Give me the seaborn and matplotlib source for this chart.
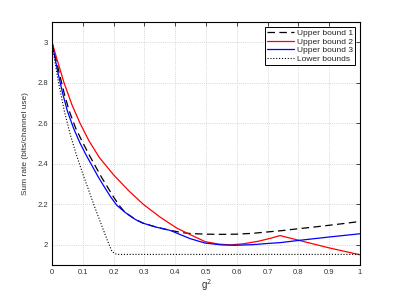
import numpy as np
import pandas as pd
import matplotlib
matplotlib.use("Agg")
import matplotlib.pyplot as plt
import seaborn as sns

# Werte
ub1_x = [0, 0.012, 0.024, 0.04, 0.056, 0.077, 0.098, 0.12, 0.14, 0.16, 0.18, 0.2, 0.22,
         0.237, 0.27, 0.296, 0.34, 0.383, 0.42, 0.45, 0.5, 0.55, 0.6, 0.65, 0.7, 0.75,
         0.8, 0.85, 0.9, 0.95, 1.0]
ub1_y = [3.0, 2.92, 2.845, 2.745, 2.66, 2.575, 2.51, 2.445, 2.39, 2.335, 2.285, 2.235,
         2.19, 2.16, 2.125, 2.106, 2.086, 2.071, 2.060, 2.055, 2.052, 2.051, 2.052,
         2.056, 2.063, 2.070, 2.079, 2.087, 2.096, 2.105, 2.115]

ub2_x = [0, 0.017, 0.039, 0.065, 0.091, 0.12, 0.154, 0.2, 0.25, 0.296, 0.35, 0.405,
         0.448, 0.497, 0.54, 0.578, 0.62, 0.67, 0.71, 0.74, 0.8, 0.9, 1.0]
ub2_y = [3.0, 2.912, 2.80, 2.69, 2.60, 2.513, 2.43, 2.345, 2.265, 2.20, 2.137, 2.082,
         2.05, 2.015, 2.003, 1.999, 2.004, 2.017, 2.032, 2.045, 2.022, 1.984, 1.95]

ub3_x = [0, 0.01, 0.02, 0.035, 0.05, 0.07, 0.09, 0.11, 0.13, 0.15, 0.17, 0.19, 0.21,
         0.237, 0.27, 0.296, 0.34, 0.383, 0.416, 0.448, 0.497, 0.55, 0.594, 0.65, 0.7,
         0.74, 0.8, 0.9, 1.0]
ub3_y = [3.0, 2.92, 2.845, 2.745, 2.66, 2.575, 2.505, 2.445, 2.39, 2.335, 2.285, 2.237,
         2.195, 2.16, 2.125, 2.106, 2.086, 2.071, 2.05, 2.03, 2.008, 1.999, 1.997, 2.0,
         2.006, 2.01, 2.021, 2.038, 2.054]

lb_x = [0, 0.01, 0.02, 0.04, 0.06, 0.08, 0.1, 0.12, 0.14, 0.16, 0.18, 0.195, 0.21, 1.0]
lb_y = [3.0, 2.90, 2.81, 2.66, 2.54, 2.44, 2.35, 2.265, 2.18, 2.10, 2.02, 1.965, 1.952, 1.952]

x_ticks = [0, 0.1, 0.2, 0.3, 0.4, 0.5, 0.6, 0.7, 0.8, 0.9, 1]
x_ticklabels = ["0", "0.1", "0.2", "0.3", "0.4", "0.5", "0.6", "0.7", "0.8", "0.9", "1"]
y_ticks = [2, 2.2, 2.4, 2.6, 2.8, 3]
y_ticklabels = ["2", "2.2", "2.4", "2.6", "2.8", "3"]

sns.set_theme(style="white")
plt.rcParams['font.family'] = ['Liberation Sans', 'DejaVu Sans']
plt.rcParams['lines.dashed_pattern'] = [6, 3.5]
plt.rcParams['lines.dotted_pattern'] = [1, 1.6]

fig = plt.figure(figsize=(3.97, 2.98), dpi=100)
ax = fig.add_axes([0.131, 0.111, 0.776, 0.815])

sns.lineplot(x=ub1_x, y=ub1_y, ax=ax, color="black", lw=0.9, linestyle="--",
             sort=False, estimator=None, label="Upper bound 1")
sns.lineplot(x=ub2_x, y=ub2_y, ax=ax, color="red", lw=0.9,
             sort=False, estimator=None, label="Upper bound 2")
sns.lineplot(x=ub3_x, y=ub3_y, ax=ax, color="blue", lw=0.9,
             sort=False, estimator=None, label="Upper bound 3")
sns.lineplot(x=lb_x, y=lb_y, ax=ax, color="black", lw=0.8, linestyle=":",
             sort=False, estimator=None, label="Lower bounds")

ax.set_xlim(0, 1)
ax.set_ylim(1.9, 3.1)
ax.set_xticks(x_ticks)
ax.set_xticklabels(x_ticklabels)
ax.set_yticks(y_ticks)
ax.set_yticklabels(y_ticklabels)

# Gitter gepunktet wie in MATLAB
ax.grid(True, linestyle=":", color="#c8c8c8", linewidth=0.6)
ax.set_axisbelow(True)

for sp in ax.spines.values():
    sp.set_color("black")
    sp.set_linewidth(0.8)
ax.tick_params(direction="in", length=3, width=0.6, top=True, right=True,
               labelsize=5.5, labelcolor="#333333", pad=3)

ax.set_xlabel("g$^2$", fontsize=7, color="#333333", labelpad=1)
ax.set_ylabel("Sum rate (bits/channel use)", fontsize=6, color="#333333", labelpad=6)

leg = ax.legend(loc="upper right", fontsize=6, frameon=True, fancybox=False,
                framealpha=1, edgecolor="black", handlelength=3.2,
                borderpad=0.25, labelspacing=0.1, handletextpad=0.4,
                borderaxespad=0.6)
leg.get_frame().set_linewidth(0.7)

fig.savefig("out.png", dpi=100)
